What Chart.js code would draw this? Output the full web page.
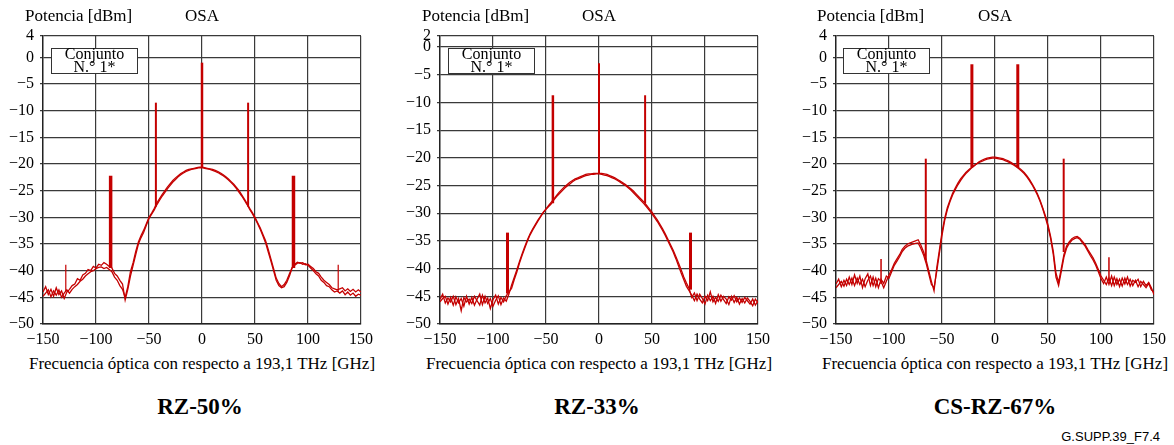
<!DOCTYPE html>
<html>
<head>
<meta charset="utf-8">
<script src="https://cdn.jsdelivr.net/npm/chart.js@4.4.1/dist/chart.umd.min.js"></script>
<style>
  html, body { margin: 0; padding: 0; background: #fff; }
  #page { position: relative; width: 1174px; height: 445px; overflow: hidden; background: #fff;
          font-family: "Liberation Serif", "Times New Roman", serif; color: #000; }
  canvas { position: absolute; top: 0; }
  .t { position: absolute; font-size: 17px; line-height: 17px; white-space: nowrap; }
  .c { transform: translateX(-50%); }
  .box { position: absolute; top: 48px; width: 85px; height: 24px; border: 1px solid #333; background: #fff; }
  .box div { position: absolute; left: 0; right: 0; top: -2px; text-align: center; font-size: 16px; line-height: 13px; }
  .big { position: absolute; top: 395px; font-size: 23px; line-height: 23px; font-weight: bold; transform: translateX(-50%); white-space: nowrap; }
  .ref { position: absolute; top: 429px; right: 14px; font-family: "Liberation Sans", Arial, sans-serif; font-size: 13px; }
</style>
</head>
<body>
<div id="page">
  <canvas id="c1" width="390" height="352" style="left:0px"></canvas>
  <canvas id="c2" width="390" height="352" style="left:395px"></canvas>
  <canvas id="c3" width="384" height="352" style="left:790px"></canvas>

  <div class="t" style="left:25px;top:7px">Potencia [dBm]</div>
  <div class="t c" style="left:202px;top:7px">OSA</div>
  <div class="t" style="left:422px;top:7px">Potencia [dBm]</div>
  <div class="t c" style="left:599px;top:7px">OSA</div>
  <div class="t" style="left:817px;top:7px">Potencia [dBm]</div>
  <div class="t c" style="left:995px;top:7px">OSA</div>

  <div class="box" style="left:51px"><div>Conjunto<br>N.° 1*</div></div>
  <div class="box" style="left:448px"><div>Conjunto<br>N.° 1*</div></div>
  <div class="box" style="left:843px"><div>Conjunto<br>N.° 1*</div></div>

  <div class="t c" style="left:202px;top:355px">Frecuencia óptica con respecto a 193,1 THz [GHz]</div>
  <div class="t c" style="left:599px;top:355px">Frecuencia óptica con respecto a 193,1 THz [GHz]</div>
  <div class="t c" style="left:995px;top:355px">Frecuencia óptica con respecto a 193,1 THz [GHz]</div>

  <div class="big" style="left:200px">RZ-50%</div>
  <div class="big" style="left:597px">RZ-33%</div>
  <div class="big" style="left:995px">CS-RZ-67%</div>
  <div class="ref">G.SUPP.39_F7.4</div>
</div>

<script>
// frecuencia (GHz) de cada muestra del OSA
const freq = [
  -150, -147.5, -145, -142.5, -140, -137.5, -135, -132.5, -130, -127.5, -125, -122.5, -120, -117.5, -115, -112.5,
  -110, -107.5, -105, -102.5, -100, -97.5, -95, -92.5, -90, -87.5, -85, -82.5, -80, -77.5, -75, -72.5,
  -70, -67.5, -65, -62.5, -60, -57.5, -55, -52.5, -50, -47.5, -45, -42.5, -40, -37.5, -35, -32.5,
  -30, -27.5, -25, -22.5, -20, -17.5, -15, -12.5, -10, -7.5, -5, -2.5, 0, 2.5, 5, 7.5,
  10, 12.5, 15, 17.5, 20, 22.5, 25, 27.5, 30, 32.5, 35, 37.5, 40, 42.5, 45, 47.5,
  50, 52.5, 55, 57.5, 60, 62.5, 65, 67.5, 70, 72.5, 75, 77.5, 80, 82.5, 85, 87.5,
  90, 92.5, 95, 97.5, 100, 102.5, 105, 107.5, 110, 112.5, 115, 117.5, 120, 122.5, 125, 127.5,
  130, 132.5, 135, 137.5, 140, 142.5, 145, 147.5, 150
];

// RZ-50%
const rz50A = [
  -44.0, -43.0, -44.5, -43.5, -44.8, -43.2, -44.5, -43.8, -45.2, -44.0, -43.5, -42.8, -42.5, -41.5, -41.8, -40.8,
  -40.5, -39.8, -40.0, -39.2, -39.5, -38.8, -39.0, -38.5, -38.8, -39.2, -39.5, -40.5, -41.0, -41.8, -42.5, -45.5,
  -43.5, -41.0, -39.0, -37.0, -35.0, -33.8, -32.8, -31.5, -30.2, -29.4, -28.6, -27.6, -26.8, -26.0, -25.3, -24.6,
  -24.0, -23.4, -22.9, -22.4, -22.0, -21.7, -21.4, -21.2, -21.0, -20.9, -20.8, -20.7, -20.7, -20.8, -20.9, -21.0,
  -21.2, -21.4, -21.6, -21.9, -22.2, -22.6, -23.0, -23.5, -24.0, -24.6, -25.3, -26.0, -26.8, -27.6, -28.5, -29.3,
  -30.2, -31.2, -32.3, -33.5, -34.8, -36.5, -38.2, -40.0, -41.8, -42.8, -43.2, -43.0, -42.2, -41.0, -39.5, -39.0,
  -38.6, -38.5, -38.8, -38.7, -39.0, -39.5, -40.0, -40.6, -41.0, -41.8, -42.2, -42.8, -43.0, -43.6, -44.0, -43.8,
  -44.2, -43.8, -44.5, -44.0, -44.6, -44.2, -44.8, -44.4, -44.6
];
const rz50B = [
  -44.8, -44.2, -43.6, -44.9, -43.8, -44.6, -43.6, -45.0, -44.2, -43.6, -44.2, -43.5, -43.0, -42.6, -42.0, -41.6,
  -41.0, -40.6, -40.2, -40.0, -39.6, -39.4, -39.3, -39.6, -39.4, -39.8, -40.2, -41.2, -41.8, -42.8, -43.5, -45.0,
  -43.0, -40.2, -38.5, -36.4, -34.6, -33.4, -32.4, -31.2, -30.0, -29.2, -28.3, -27.3, -26.5, -25.7, -25.0, -24.3,
  -23.7, -23.1, -22.6, -22.2, -21.8, -21.5, -21.2, -21.0, -20.9, -20.8, -20.7, -20.6, -20.6, -20.7, -20.8, -20.9,
  -21.0, -21.2, -21.4, -21.7, -22.0, -22.4, -22.8, -23.3, -23.8, -24.4, -25.0, -25.8, -26.6, -27.4, -28.3, -29.1,
  -30.0, -31.0, -32.0, -33.2, -34.4, -36.0, -37.8, -39.6, -41.4, -42.4, -43.0, -42.6, -41.8, -40.6, -39.4, -38.8,
  -38.4, -38.6, -38.5, -38.9, -38.8, -39.2, -39.6, -40.2, -40.5, -41.2, -41.8, -42.2, -42.6, -43.2, -43.4, -43.6,
  -43.4, -43.2, -43.8, -43.4, -43.9, -43.5, -44.0, -43.6, -44.0
];
const rz50SpikeX    = [-128.5, -86.2, -43.5, 0, 43.5, 86.3, 128.5];
const rz50SpikeTop  = [-38.9, -22.2, -8.5, -1.0, -8.5, -22.2, -38.9];
const rz50SpikeBase = [-44.0, -39.5, -28.0, -20.7, -28.0, -39.5, -44.0];

// RZ-33%
const rz33A = [
  -45.5, -44.6, -46.2, -45.3, -46.0, -45.0, -46.5, -45.4, -47.6, -45.2, -46.0, -45.5, -46.3, -45.0, -45.8, -46.6,
  -44.8, -46.2, -45.3, -47.2, -45.6, -44.8, -46.4, -45.2, -46.0, -44.9, -44.2, -43.6, -42.0, -40.6, -39.0, -37.6,
  -36.3, -35.0, -33.9, -33.0, -32.2, -31.4, -30.6, -29.9, -29.3, -28.8, -28.3, -27.6, -27.0, -26.5, -26.0, -25.5,
  -25.1, -24.7, -24.3, -24.0, -23.8, -23.6, -23.4, -23.2, -23.1, -23.0, -23.0, -22.9, -22.9, -23.0, -23.1, -23.2,
  -23.4, -23.6, -23.8, -24.1, -24.4, -24.7, -25.0, -25.4, -25.8, -26.3, -26.8, -27.3, -27.8, -28.3, -28.9, -29.5,
  -30.1, -30.8, -31.5, -32.3, -33.1, -34.0, -35.0, -36.0, -37.0, -38.2, -39.5, -40.8, -42.0, -43.2, -44.0, -44.8,
  -45.8, -44.6, -45.5, -46.2, -45.0, -45.8, -44.2, -46.0, -45.2, -45.9, -44.8, -45.6, -46.3, -45.1, -45.7, -44.9,
  -46.0, -45.3, -46.1, -45.2, -45.8, -46.4, -45.5, -46.6, -45.8
];
const rz33B = [
  -46.0, -45.4, -45.0, -46.4, -45.2, -46.6, -45.1, -46.2, -45.4, -46.8, -45.0, -46.4, -45.2, -46.6, -45.5, -44.6,
  -46.5, -45.0, -46.3, -45.4, -46.8, -45.7, -44.9, -46.5, -45.3, -45.9, -44.6, -43.0, -41.6, -40.2, -38.7, -37.3,
  -36.0, -34.8, -33.7, -32.8, -32.0, -31.2, -30.5, -29.8, -29.2, -28.6, -28.0, -27.4, -26.8, -26.2, -25.7, -25.2,
  -24.8, -24.4, -24.1, -23.8, -23.6, -23.4, -23.2, -23.0, -22.9, -22.9, -22.8, -22.8, -22.8, -22.8, -22.9, -23.0,
  -23.2, -23.4, -23.6, -23.9, -24.2, -24.5, -24.8, -25.2, -25.6, -26.0, -26.5, -27.0, -27.5, -28.0, -28.6, -29.2,
  -29.8, -30.5, -31.2, -32.0, -32.8, -33.7, -34.7, -35.7, -36.7, -37.8, -39.0, -40.2, -41.5, -42.6, -43.6, -45.2,
  -44.4, -45.8, -44.6, -45.4, -46.4, -44.8, -45.8, -45.0, -46.3, -44.7, -45.9, -45.0, -45.5, -46.5, -45.0, -46.1,
  -45.2, -46.4, -45.4, -46.2, -45.3, -45.9, -46.7, -45.5, -46.2
];
const rz33SpikeX    = [-86.3, -43.5, 0, 43.5, 86.3];
const rz33SpikeTop  = [-33.5, -8.7, -2.9, -8.7, -33.5];
const rz33SpikeBase = [-44.5, -28.2, -22.9, -28.2, -43.8];

// CS-RZ-67%
const csrzA = [
  -42.5, -41.6, -43.0, -41.8, -42.8, -41.2, -42.6, -40.8, -42.4, -41.0, -43.2, -41.5, -40.6, -42.8, -41.2, -43.0,
  -41.5, -42.0, -43.2, -42.0, -40.8, -39.8, -38.6, -37.8, -37.0, -36.0, -35.4, -35.0, -34.8, -34.6, -34.4, -34.2,
  -35.2, -36.4, -38.0, -40.0, -42.0, -43.8, -39.5, -36.2, -32.8, -30.2, -28.2, -26.8, -25.5, -24.5, -23.6, -22.8,
  -22.2, -21.6, -21.1, -20.7, -20.3, -20.0, -19.7, -19.5, -19.3, -19.1, -19.0, -18.9, -18.9, -19.0, -19.1, -19.2,
  -19.4, -19.6, -19.9, -20.2, -20.5, -20.9, -21.3, -21.8, -22.4, -23.1, -23.9, -24.8, -25.8, -27.0, -28.4, -30.0,
  -31.8, -34.0, -37.0, -41.2, -42.8, -40.2, -37.5, -35.8, -34.9, -34.3, -34.0, -33.8, -34.1, -34.8, -35.4, -36.3,
  -37.2, -38.0, -39.0, -40.2, -41.5, -42.4, -41.2, -42.6, -41.0, -42.8, -41.5, -43.0, -41.4, -42.5, -41.2, -42.9,
  -41.8, -42.2, -41.6, -43.0, -42.0, -42.8, -42.2, -43.2, -44.5
];
const csrzB = [
  -43.2, -42.6, -42.0, -42.9, -41.6, -42.6, -41.4, -42.8, -41.4, -42.6, -41.6, -43.0, -41.8, -41.0, -42.8, -41.4,
  -43.2, -41.6, -42.4, -41.0, -41.4, -40.2, -39.0, -38.2, -37.4, -36.4, -35.8, -35.4, -35.2, -35.0, -34.9, -34.8,
  -35.8, -37.0, -38.6, -40.6, -42.6, -43.2, -40.2, -36.8, -33.4, -30.6, -28.6, -27.1, -25.8, -24.8, -23.9, -23.1,
  -22.4, -21.8, -21.3, -20.8, -20.4, -20.0, -19.6, -19.3, -19.1, -18.9, -18.8, -18.7, -18.7, -18.8, -18.9, -19.0,
  -19.2, -19.4, -19.7, -20.0, -20.3, -20.7, -21.1, -21.6, -22.2, -22.9, -23.7, -24.6, -25.6, -26.8, -28.2, -29.7,
  -31.4, -33.6, -36.4, -40.4, -42.2, -39.6, -37.0, -35.4, -34.6, -34.0, -33.7, -33.6, -33.9, -34.5, -35.1, -36.0,
  -36.8, -37.6, -38.6, -39.8, -41.0, -41.8, -42.6, -41.4, -42.8, -41.2, -42.6, -41.6, -42.9, -41.4, -42.6, -41.6,
  -42.8, -41.8, -43.0, -42.0, -42.6, -43.2, -42.4, -43.6, -44.0
];
const csrzSpikeX    = [-107.5, -65.3, -21.8, 21.5, 64.8, 107.5];
const csrzSpikeTop  = [-37.8, -19.0, -1.3, -1.3, -19.0, -37.5];
const csrzSpikeBase = [-42.5, -38.0, -20.6, -20.6, -36.5, -42.0];

// marcas del eje vertical
const yTicks4 = [4, 0, -5, -10, -15, -20, -25, -30, -35, -40, -45, -50];
const yTicks2 = [2, 0, -5, -10, -15, -20, -25, -30, -35, -40, -45, -50];

const RED = '#c40000';
const GRID = '#3a3a3a';
const tickFont = { family: '"Liberation Serif", "Times New Roman", serif', size: 16 };
const minus = v => (v < 0 ? '\u2212' + Math.abs(v) : String(v));

function makePanel(id, traceA, traceB, sx, sTop, sBase, sWidth, yTicks, yMax, yWidth, padRight) {
  const trace = ys => ({
    data: freq.map((x, i) => ({ x: x, y: ys[i] })),
    borderColor: RED,
    borderWidth: 1.3,
    pointRadius: 0,
    tension: 0
  });
  const spikes = sx.map((x, i) => ({
    data: [{ x: x, y: sBase[i] }, { x: x, y: sTop[i] }],
    borderColor: RED,
    borderWidth: sWidth[i],
    pointRadius: 0
  }));

  new Chart(document.getElementById(id), {
    type: 'line',
    data: { datasets: [trace(traceA), trace(traceB), ...spikes] },
    options: {
      responsive: false,
      animation: false,
      events: [],
      layout: { padding: { top: 36, right: padRight, left: 0, bottom: 0 } },
      plugins: { legend: { display: false }, tooltip: { enabled: false } },
      scales: {
        x: {
          type: 'linear', min: -150, max: 150,
          afterFit: s => { s.height = 28; },
          ticks: { stepSize: 50, color: '#000', font: tickFont, padding: 6, maxRotation: 0, callback: minus },
          grid: { color: GRID, lineWidth: 1.2, drawTicks: false },
          border: { display: true, color: '#222', width: 1.4 }
        },
        y: {
          type: 'linear', min: -50, max: yMax,
          afterFit: s => { s.width = yWidth; },
          afterBuildTicks: s => { s.ticks = yTicks.map(v => ({ value: v })); },
          ticks: { color: '#000', font: tickFont, padding: 6, autoSkip: false, callback: minus },
          grid: { color: GRID, lineWidth: 1.2, tickLength: 3 },
          border: { display: true, color: '#222', width: 1.4 }
        }
      }
    }
  });
}

makePanel('c1', rz50A, rz50B, rz50SpikeX, rz50SpikeTop, rz50SpikeBase,
  [1.2, 3.5, 2, 2.5, 2, 3.5, 1.2], yTicks4, 4, 43, 29);
makePanel('c2', rz33A, rz33B, rz33SpikeX, rz33SpikeTop, rz33SpikeBase,
  [3, 2.5, 2, 2, 3], yTicks2, 2, 45, 27);
makePanel('c3', csrzA, csrzB, csrzSpikeX, csrzSpikeTop, csrzSpikeBase,
  [1.5, 2, 3, 3, 2, 1.5], yTicks4, 4, 46, 20);
</script>
</body>
</html>
